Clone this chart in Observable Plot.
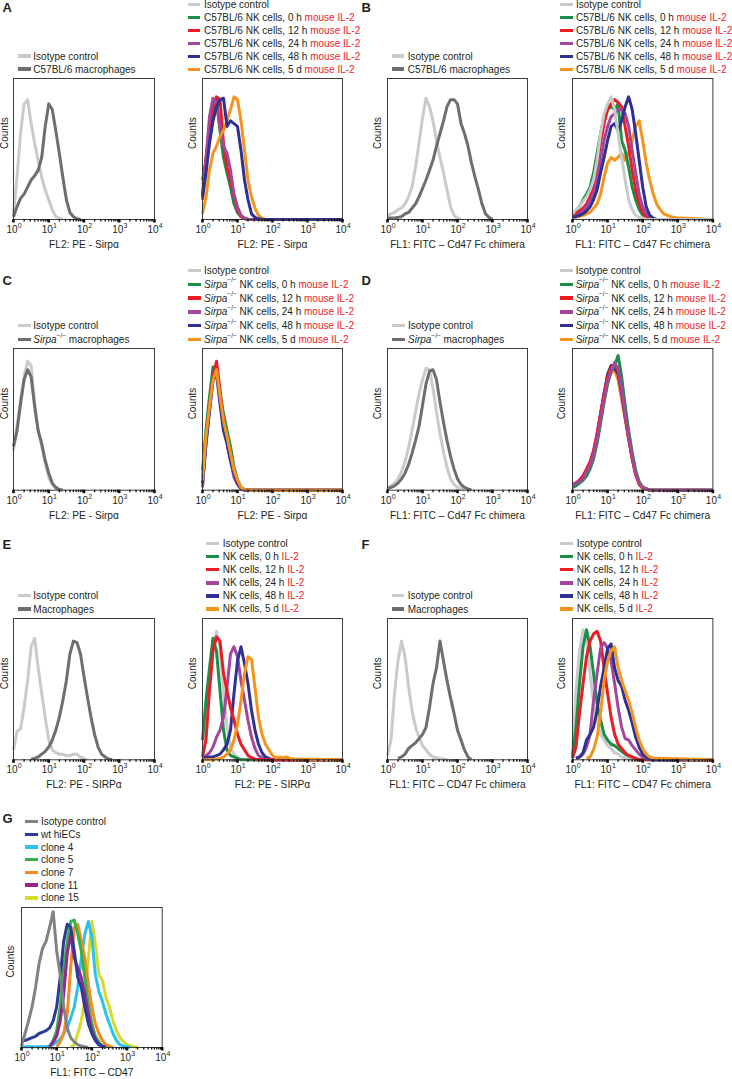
<!DOCTYPE html>
<html><head><meta charset="utf-8">
<script src="https://cdn.jsdelivr.net/npm/d3@7"></script>
<script src="https://cdn.jsdelivr.net/npm/@observablehq/plot@0.6"></script>
<style>
body{margin:0;background:#fff;}
#fig{position:relative;width:732px;height:1079px;font-family:"Liberation Sans",Arial,Helvetica,sans-serif;color:#231f20;overflow:hidden;background:#fff}
.panel{position:absolute;overflow:visible}
.panel svg{overflow:visible}
.letter{position:absolute;font-weight:bold;font-size:13px;line-height:12px}
.row{position:absolute;height:13px;display:flex;align-items:center;font-size:10px;white-space:nowrap}
.sw{display:inline-block;width:12.5px;height:3.4px;flex:none}
.red{color:#ed1c24}
.row sup{font-size:6.5px;line-height:0;position:relative;top:-1px;vertical-align:super}
</style></head>
<body><div id="fig"></div>
<script>
// ---------- data (y = counts, % of frame height; x sampled every 0.1 log10 unit from 10^0) ----------
const LOG_STEP = 0.1;
const X_DOMAIN = [1, 10000];
const majorTicks = [1, 10, 100, 1000, 10000];
const tickExp = ["0", "1", "2", "3", "4"];
const minorTicks = [2,3,4,5,6,7,8,9,20,30,40,50,60,70,80,90,200,300,400,500,600,700,800,900,2000,3000,4000,5000,6000,7000,8000,9000];

// A: Sirpα on C57BL/6 cells
const A1_iso = [4,30,61,82,85,68,54,42,30,21,14,7,2,1,0];
const A1_mac = [2,9,15,18,23,28,31,35,44,66,82,78,63,47,30,14,5,2,0.5,0];
const A2_iso = [25,40,60,80,86,66,46,34,24,12,5,2,0.5,0];
const A2_0h  = [28,42,61,78,85,63,44,33,23,11,5,2,0.5,0];
const A2_12h = [18,44,66,80,87,85,54,37,28,16,7,2,1,0];
const A2_24h = [14,42,73,86,82,66,52,47,35,18,9,3,1,0];
const A2_48h = [16,33,54,70,80,85,86,66,70,68,66,49,28,14,4,1.5,0.5,0];
const A2_5d  = [4,16,35,47,52,59,63,70,78,87,85,70,49,28,16,8,3,1,0];
// B: Cd47 Fc binding, C57BL/6
const B1_iso = [3,4,5,7,8,11,16,23,37,54,72,86,80,70,56,44,33,21,9,3,1,0];
const B1_mac = [1,1,1,1.5,2,4,5,8,11,16,22,28,35,42,52,61,70,80,85,85,82,68,61,52,40,30,21,11,4,1.5,0];
const B2_iso = [4,7,9,13,16,21,28,42,61,75,82,87,78,61,44,28,14,7,3,1.5,1,0];
const B2_0h  = [4,6,9,14,18,23,33,47,61,73,78,80,78,82,56,49,37,23,14,7,3,1.5,0.5,0];
const B2_12h = [3,4,6,8,11,16,23,37,54,68,78,82,85,83,80,66,52,35,21,11,5,2,1,0];
const B2_24h = [2,2,4,6,9,13,18,28,42,56,66,73,75,78,78,75,66,49,33,18,9,4,2,0];
const B2_48h = [2,2,3,4,6,9,14,21,33,44,56,66,68,63,70,80,87,78,61,42,23,9,3,1,0];
const B2_5d  = [1.5,2,2,3,4,5,8,11,18,30,40,44,42,44,47,42,47,56,66,70,56,40,28,18,11,7,4,3,2,1.5,1,1];
// C: Sirpα on Sirpa-/- cells
const C1_iso = [28,45,64,80,91,88,61,42,31,19,9,4,1,0];
const C1_mac = [31,42,61,78,85,80,59,42,33,21,12,5,2,0.5,0];
const C2_iso = [10,40,62,80,88,66,50,40,28,15,7,2,0.5,0];
const C2_0h  = [14,42,66,87,86,68,54,42,31,16,7,2,0.5,0];
const C2_12h = [7,35,59,80,91,71,49,35,24,12,5,1,0];
const C2_24h = [2,33,56,78,85,64,45,33,21,9,4,1,0];
const C2_48h = [5,33,56,78,82,61,42,33,21,12,5,1,0];
const C2_5d  = [7,38,59,78,85,66,49,38,26,14,7,2,0.5,0];
// D: Cd47 Fc binding, Sirpa-/-
const D1_iso = [2,3,5,8,13,20,30,42,55,68,78,86,85,72,55,40,27,16,8,4,2,1,0];
const D1_mac = [1,2,3,5,8,12,18,26,35,45,60,75,84,85,78,62,48,35,24,15,8,4,2,1,0];
const D2_iso = [3,4,6,9,13,18,27,40,54,68,80,86,88,86,72,55,40,25,12,5,2,1,0];
const D2_0h  = [2,3,5,7,10,15,22,33,47,62,75,84,88,95,80,60,42,27,14,6,2,1,0];
const D2_12h = [4,5,7,10,15,20,28,40,54,68,80,87,89,84,70,52,36,22,11,4,2,1,0];
const D2_24h = [3,5,6,8,13,17,25,36,50,64,77,84,90,86,72,54,38,24,12,5,2,1,0];
const D2_48h = [4,5,7,10,14,19,27,39,54,68,82,88,86,82,68,52,37,23,12,5,2,1,0];
const D2_5d  = [3,4,6,9,12,17,25,37,51,65,76,83,84,78,64,50,36,23,11,4,1,0.5,0];
// E: SIRPα, human
const E1_iso = [7,20,22,37,56,80,86,65,47,30,14,7,5,4,4,3,3,4,4,2,1,0];
const E1_mac = [null,null,null,null,null,0.5,1,2,4,6,9,14,21,30,42,56,75,84,83,75,59,44,30,18,9,4,2,0.5,0];
const E2_iso = [4,23,56,80,91,80,49,23,9,4,2,0];
const E2_0h  = [14,42,65,86,77,49,21,7,3,2,1,0];
const E2_12h = [2,14,49,77,87,84,61,49,37,28,18,11,7,3,1.5,0.5,0];
const E2_24h = [2,3,5,9,16,21,30,51,75,80,73,56,42,28,16,8,3,1.5,0.5,0];
const E2_48h = [1,1.5,2,2,3,4,7,11,21,47,70,80,68,54,35,21,11,5,2,1,0];
const E2_5d  = [0,0,0,0,0.5,1,2,4,7,14,25,42,61,73,71,51,30,18,11,7,3,1.5,2,1.5,2,1,0.5];
// F: CD47 Fc binding, human
const F1_iso = [3,14,47,70,84,73,52,35,23,16,10,7,4,2,1.5,1,0.5,0];
const F1_mac = [null,null,null,1,2,4,8,10,12,15,18,23,37,54,65,84,70,56,44,33,21,14,7,2,0];
const F2_iso = [4,49,77,92,84,61,40,28,18,14,10,8,5,4,2,1.5,1,0];
const F2_0h  = [2,23,54,80,92,80,61,40,28,18,14,11,10,8,6,4,3,2,1,0];
const F2_12h = [1,9,33,54,73,84,89,91,84,65,47,30,18,11,8,5,3,2,1,0];
const F2_24h = [null,1,2,4,9,18,42,61,79,83,79,70,54,37,23,15,14,10,7,4,2,1,0];
const F2_48h = [null,1,2,5,14,18,23,35,52,65,79,82,65,56,52,42,35,26,16,9,4,2,0.5,0];
const F2_5d  = [null,null,null,null,1,2,7,16,33,56,70,77,80,65,56,49,42,33,23,14,8,4,2,1,1];
// G: CD47 on hiEC clones
const G_iso = [1,10,19,29,43,60,71,76,86,97,69,52,29,14,7,4,2,1,0.5,0];
const G_wt  = [5,5,6,7,8,10,11,12,14,19,29,50,76,88,86,69,50,43,29,17,10,5,2,1,0];
const G_c4  = [0.5,0.5,0.5,0.5,0.5,0.5,0.5,0.5,1,2,4,6,10,14,21,29,43,64,81,90,79,52,40,33,24,17,10,5,2,1,0.5,0];
const G_c5  = [null,null,null,null,null,null,null,null,0.5,5,12,29,57,76,90,91,81,69,50,31,17,8,4,1,0];
const G_c7  = [null,null,null,null,null,null,null,null,null,null,0.5,4,10,24,57,86,88,76,64,45,29,17,10,5,2,1,0];
const G_c11 = [null,null,null,null,null,null,null,null,0.5,4,8,19,38,67,81,64,57,50,38,24,12,6,2,1,0];
const G_c15 = [null,null,null,null,null,null,null,null,null,null,null,null,null,null,0.5,2,10,19,33,64,90,74,52,48,36,29,19,12,7,4,2,1,0.5,0];

// labels
const TIMES = ["0 h", "12 h", "24 h", "48 h", "5 d"];
const XLAB_A = "FL2: PE - Sirpα";
const XLAB_B = "FL1: FITC – Cd47 Fc chimera";
const XLAB_E = "FL2: PE - SIRPα";
const XLAB_F = "FL1: FITC – CD47 Fc chimera";
const XLAB_G = "FL1: FITC – CD47";
const SIRPA = "<i>Sirpa</i><sup>−/−</sup>";
const LEG_A1 = ["Isotype control", "C57BL/6 macrophages"];
const LEG_A2 = ["Isotype control", ...TIMES.map(t => `C57BL/6 NK cells, ${t} <span class="red">mouse IL-2</span>`)];
const LEG_C1 = ["Isotype control", `${SIRPA} macrophages`];
const LEG_C2 = ["Isotype control", ...TIMES.map(t => `${SIRPA} NK cells, ${t} <span class="red">mouse IL-2</span>`)];
const LEG_E1 = ["Isotype control", "Macrophages"];
const LEG_E2 = ["Isotype control", ...TIMES.map(t => `NK cells, ${t} <span class="red">IL-2</span>`)];
const LEG_G = ["Isotype control", "wt hiECs", "clone 4", "clone 5", "clone 7", "clone 11", "clone 15"];

// colours
const COL = {iso:"#c9cacc", mac:"#6d6e71", h0:"#1b8f45", h12:"#ed1c24", h24:"#a3479c", h48:"#2e3192", d5:"#f7941d",
  gIso:"#808285", wt:"#2e3a95", c4:"#2ac2f0", c5:"#35b24a", c7:"#f58a1f", c11:"#93278f", c15:"#d4dc28"};
const NK = ["h0","h12","h24","h48","d5"];
const legColA = ["iso","mac"];
const legColNK = ["iso", ...NK];
const legColG = ["gIso","wt","c4","c5","c7","c11","c15"];

// ---------- layout ----------
const panels = [
  {frame:[13.3,78.3,154.3,219.3], counts:8.5, xlabel:XLAB_A, series:[[A1_iso,"iso"],[A1_mac,"mac"]],
   legend:{items:LEG_A1, cols:legColA, x:18.3, tx:33.3, y0:56, dy:13}},
  {frame:[201.7,78.3,341.7,219.3], counts:10, xlabel:XLAB_A, tail:true,
   series:[[A2_iso,"iso"],[A2_0h,"h0"],[A2_12h,"h12"],[A2_24h,"h24"],[A2_5d,"d5"],[A2_48h,"h48"]],
   legend:{items:LEG_A2, cols:legColNK, x:187.5, tx:204, y0:4.3, dy:13}},
  {frame:[386.7,78.3,526.7,219.3], counts:10, xlabel:XLAB_B, series:[[B1_iso,"iso"],[B1_mac,"mac"]],
   legend:{items:LEG_A1, cols:legColA, x:391.7, tx:407.7, y0:56, dy:13}},
  {frame:[572.3,78.3,712.7,219.3], counts:10.6, xlabel:XLAB_B, tail:true,
   series:[[B2_5d,"d5"],[B2_0h,"h0"],[B2_12h,"h12"],[B2_24h,"h24"],[B2_48h,"h48"],[B2_iso,"iso"]],
   legend:{items:LEG_A2, cols:legColNK, x:560, tx:576, y0:4.3, dy:13}},
  {frame:[13.3,348.3,154.3,490], counts:8.5, xlabel:XLAB_A, series:[[C1_iso,"iso"],[C1_mac,"mac"]],
   legend:{items:LEG_C1, cols:legColA, x:18.3, tx:33.3, y0:325.5, dy:14}},
  {frame:[201.7,348.3,341.7,490], counts:10, xlabel:XLAB_A, tail:true,
   series:[[C2_iso,"iso"],[C2_0h,"h0"],[C2_12h,"h12"],[C2_24h,"h24"],[C2_48h,"h48"],[C2_5d,"d5"]],
   legend:{items:LEG_C2, cols:legColNK, x:188, tx:204, y0:270.5, dy:13.8}},
  {frame:[386.7,348.3,526.7,490], counts:10, xlabel:XLAB_B, series:[[D1_iso,"iso"],[D1_mac,"mac"]],
   legend:{items:LEG_C1, cols:legColA, x:392, tx:408, y0:325.5, dy:14}},
  {frame:[572.3,348.3,712.7,490], counts:10.6, xlabel:XLAB_B, tail:true,
   series:[[D2_iso,"iso"],[D2_5d,"d5"],[D2_48h,"h48"],[D2_12h,"h12"],[D2_0h,"h0"],[D2_24h,"h24"]],
   legend:{items:LEG_C2, cols:legColNK, x:560, tx:575.7, y0:270.5, dy:13.8}},
  {frame:[13.3,617.7,154.3,759], counts:8.5, xlabel:XLAB_E, series:[[E1_iso,"iso"],[E1_mac,"mac"]],
   legend:{items:LEG_E1, cols:legColA, x:18.3, tx:33.3, y0:595.5, dy:13.5}},
  {frame:[201.7,617.7,341.7,759], counts:10, xlabel:XLAB_E, tail:true,
   series:[[E2_iso,"iso"],[E2_0h,"h0"],[E2_24h,"h24"],[E2_48h,"h48"],[E2_12h,"h12"],[E2_5d,"d5"]],
   legend:{items:LEG_E2, cols:legColNK, x:206, tx:222.7, y0:543.7, dy:13.05}},
  {frame:[386.7,617.7,526.7,759], counts:10, xlabel:XLAB_F, series:[[F1_iso,"iso"],[F1_mac,"mac"]],
   legend:{items:LEG_E1, cols:legColA, x:391.7, tx:407.7, y0:595.5, dy:13.5}},
  {frame:[572.3,617.7,712.7,759], counts:10.6, xlabel:XLAB_F, tail:true,
   series:[[F2_iso,"iso"],[F2_0h,"h0"],[F2_12h,"h12"],[F2_24h,"h24"],[F2_48h,"h48"],[F2_5d,"d5"]],
   legend:{items:LEG_E2, cols:legColNK, x:560, tx:576.7, y0:543.7, dy:13.05}},
  {frame:[21,906.7,161.7,1046.7], counts:11, xlabel:XLAB_G,
   series:[[G_c15,"c15"],[G_c4,"c4"],[G_c7,"c7"],[G_c5,"c5"],[G_c11,"c11"],[G_wt,"wt"],[G_iso,"gIso"]],
   legend:{items:LEG_G, cols:legColG, x:25, tx:41, y0:821.7, dy:12.7}}
];
const letters = [["A",2.5,2],["B",361.5,2],["C",2.5,275],["D",361.5,275],["E",2.5,539],["F",361.5,539],["G",2.5,813]];

const fig = document.getElementById("fig");
const FONT = '"Liberation Sans", Arial, Helvetica, sans-serif';

function pts(values, tail) {
  const p = [];
  values.forEach((v, i) => { if (v != null) p.push({x: 10 ** (i * LOG_STEP), y: v}); });
  if (tail) p.push({x: X_DOMAIN[1], y: 0});
  return p;
}

const mL = 16, mR = 12, mT = 4, mB = 36;
for (const p of panels) {
  const [x0, y0, x1, y1] = p.frame;
  const W = x1 - x0, H = y1 - y0;
  const lines = p.series.map(([vals, c]) =>
    Plot.line(pts(vals, p.tail), {x: "x", y: "y", stroke: COL[c], strokeWidth: 3, strokeLinejoin: "round", strokeLinecap: "butt"}));
  const svg = Plot.plot({
    width: W + mL + mR, height: H + mT + mB,
    marginLeft: mL, marginRight: mR, marginTop: mT, marginBottom: mB,
    x: {type: "log", domain: X_DOMAIN, label: null},
    y: {domain: [0, 100], axis: null},
    style: {fontFamily: FONT, fontSize: "10px", color: "#231f20", background: "transparent", overflow: "visible"},
    marks: [
      ...lines,
      Plot.frame({stroke: "#3c3c3c", strokeWidth: 1}),
      Plot.axisX(minorTicks, {tickSize: 2.5, strokeWidth: 1.3, tickFormat: () => "", label: null, stroke: "#111"}),
      Plot.axisX(majorTicks, {tickSize: 3.5, strokeWidth: 2.6, tickFormat: () => "", label: null, stroke: "#111"}),
      Plot.text(majorTicks, {x: d => d, frameAnchor: "bottom", text: () => "10", dy: 13.5, dx: -1.5, fontSize: 10}),
      Plot.text(majorTicks, {x: d => d, frameAnchor: "bottom", text: (d, i) => tickExp[i], dy: 8.5, dx: 4.3, textAnchor: "start", fontSize: 7}),
      Plot.text([p.xlabel], {frameAnchor: "bottom", dy: 28.5, fontSize: 10.2}),
      Plot.text(["Counts"], {frameAnchor: "left", rotate: -90, dx: -p.counts, fontSize: 10})
    ]
  });
  const wrap = document.createElement("div");
  wrap.className = "panel";
  wrap.style.left = (x0 - mL) + "px";
  wrap.style.top = (y0 - mT) + "px";
  wrap.appendChild(svg);
  fig.appendChild(wrap);

  const L = p.legend;
  L.items.forEach((html, k) => {
    const row = document.createElement("div");
    row.className = "row";
    row.style.left = L.x + "px";
    row.style.top = (L.y0 + k * L.dy - 6.5) + "px";
    const sw = document.createElement("span");
    sw.className = "sw";
    sw.style.background = COL[L.cols[k]];
    sw.style.marginRight = (L.tx - L.x - 12.5) + "px";
    const tx = document.createElement("span");
    tx.innerHTML = html;
    row.appendChild(sw); row.appendChild(tx);
    fig.appendChild(row);
  });
}
for (const [t, x, y] of letters) {
  const d = document.createElement("div");
  d.className = "letter"; d.textContent = t;
  d.style.left = x + "px"; d.style.top = y + "px";
  fig.appendChild(d);
}
</script></body></html>
